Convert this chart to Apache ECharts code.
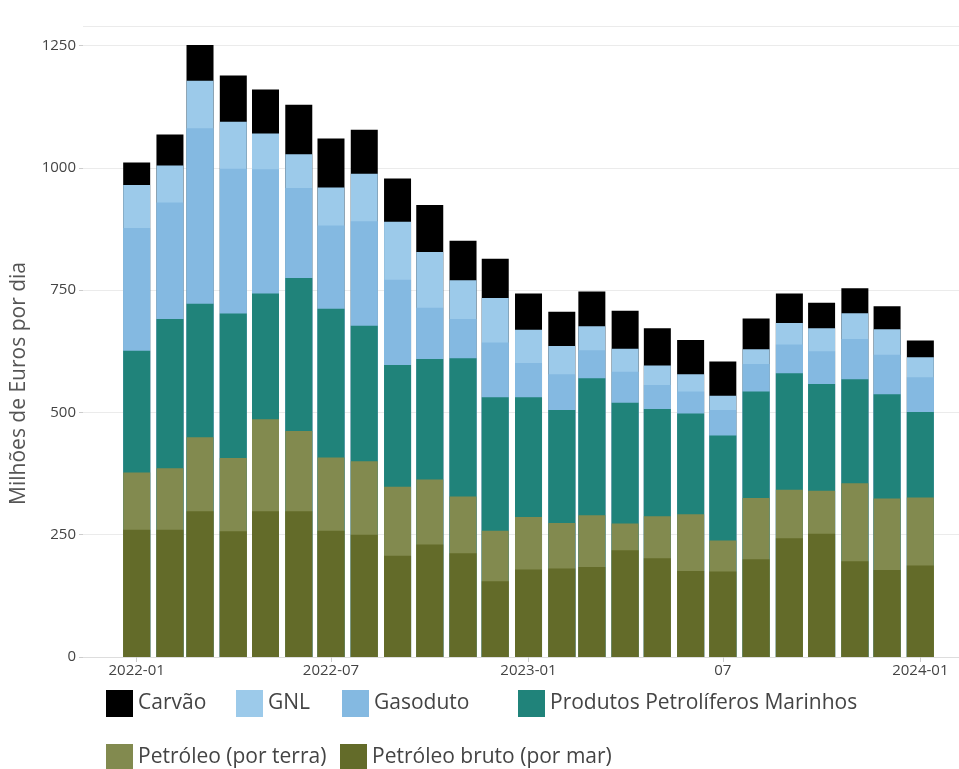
<!DOCTYPE html>
<html>
<head>
<meta charset="utf-8">
<script src="https://cdn.jsdelivr.net/npm/echarts@6/dist/echarts.min.js"></script>
<style>
html,body{margin:0;padding:0;background:#fff;}
#c{width:959px;height:769px;}
</style>
</head>
<body>
<div id="c"></div>
<script>
// Months (bar positions)
const months = ['2022-01-01','2022-02-01','2022-03-01','2022-04-01','2022-05-01','2022-06-01','2022-07-01','2022-08-01','2022-09-01','2022-10-01','2022-11-01','2022-12-01',
  '2023-01-01','2023-02-01','2023-03-01','2023-04-01','2023-05-01','2023-06-01','2023-07-01','2023-08-01','2023-09-01','2023-10-01','2023-11-01','2023-12-01','2024-01-01'];

// Series values (million EUR per day)
const petroleoBruto   = [260,260,298,257,298,298,258,250,207,230,212,155,179,181,184,218,202,176,175,200,243,252,196,178,187];
const petroleoTerra   = [117,126,151,150,188,164,150,150,141,133,116,103,107,93,106,55,86,116,63,125,99,88,159,146,139];
const produtosMarinhos= [249,305,273,295,257,313,304,277,249,246,283,273,245,231,280,247,219,206,215,218,238,218,213,213,175];
const gasoduto        = [251,238,359,296,254,184,170,214,174,105,80,112,70,73,57,63,49,45,52,56,59,67,82,81,71];
const gnl             = [88,76,97,96,73,69,78,97,119,114,79,91,68,58,49,47,40,35,29,30,44,47,53,52,41];
const carvao          = [46,63,73,95,90,101,100,90,88,96,81,80,74,70,71,78,76,70,70,63,60,52,51,47,34];

// Axis ticks
const xTickDates  = ['2022-01-01','2022-07-01','2023-01-01','2023-07-01','2024-01-01'];
const xTickLabels = ['2022-01','2022-07','2023-01','07','2024-01'];
const yTicks = [0,250,500,750,1000,1250];

function ts(s){ const p=s.split('-').map(Number); return Date.UTC(p[0],p[1]-1,p[2]); }
const tickTs = xTickDates.map(ts);

// stacking order: bottom -> top
const seriesDefs = [
  {name:'Petróleo bruto (por mar)', data:petroleoBruto, color:'#636b29'},
  {name:'Petróleo (por terra)', data:petroleoTerra, color:'#828a4f'},
  {name:'Produtos Petrolíferos Marinhos', data:produtosMarinhos, color:'#20837a'},
  {name:'Gasoduto', data:gasoduto, color:'#84b9e1'},
  {name:'GNL', data:gnl, color:'#9ccaea'},
  {name:'Carvão', data:carvao, color:'#000000'}
];
// cumulative tops (each segment drawn from 0 to its stacked top, upper layers first)
const cum = [];
seriesDefs.forEach((s,k)=>{
  cum.push(s.data.map((v,i)=> v + (k>0 ? cum[k-1][i] : 0)));
});

const FONT = 'Open Sans';
const chart = echarts.init(document.getElementById('c'), null, {renderer:'canvas'});

const legendPos = [
  {name:'Carvão', left:106, top:690},
  {name:'GNL', left:236, top:690},
  {name:'Gasoduto', left:342, top:690},
  {name:'Produtos Petrolíferos Marinhos', left:518, top:690},
  {name:'Petróleo (por terra)', left:106, top:744},
  {name:'Petróleo bruto (por mar)', left:340, top:744}
];

const series = seriesDefs.map((s,k)=>({
  name:s.name, type:'bar', barWidth:27, barGap:'-100%',
  z: 2 + (seriesDefs.length - k),
  itemStyle:{color:s.color},
  emphasis:{disabled:true},
  data: months.map((m,i)=>[ts(m), cum[k][i]])
})).reverse();

chart.setOption({
  animation:false,
  backgroundColor:'#fff',
  textStyle:{fontFamily:FONT},
  grid:{left:83, right:0, top:26, bottom:112, containLabel:false},
  xAxis:{
    type:'value',
    min: ts('2021-11-12'),
    max: ts('2024-02-06'),
    axisLine:{show:true, onZero:false, lineStyle:{color:'#dddddd', width:1}},
    axisTick:{show:true, customValues:tickTs, length:5, lineStyle:{color:'#cccccc'}},
    axisLabel:{
      customValues:tickTs,
      color:'#444', fontSize:15, fontFamily:FONT, margin:6,
      formatter:function(v){ const i = tickTs.indexOf(v); return i>=0 ? xTickLabels[i] : ''; }
    },
    splitLine:{show:false}
  },
  yAxis:{
    type:'value',
    min:0, max:1290, interval:250,
    axisLine:{show:false},
    axisTick:{show:true, length:4, lineStyle:{color:'#cccccc'}},
    axisLabel:{color:'#444', fontSize:15, fontFamily:FONT, margin:7, showMaxLabel:false,
      formatter:function(v){ return yTicks.indexOf(v)>=0 ? String(v) : ''; }},
    splitLine:{show:true, lineStyle:{color:'#ebebeb', width:1}}
  },
  legend: legendPos.map(l => ({
    data:[{name:l.name, icon:'rect'}],
    left:l.left, top:l.top, padding:0,
    itemWidth:27, itemHeight:27, itemGap:0,
    selectedMode:false,
    textStyle:{fontSize:21, color:'#444', fontFamily:FONT}
  })),
  graphic:[{
    type:'text', left:9, top:262, rotation:Math.PI/2,
    style:{text:'Milhões de Euros por dia', fill:'#555', font:'21px "Open Sans"'}
  }],
  series: series
});
</script>
</body>
</html>
